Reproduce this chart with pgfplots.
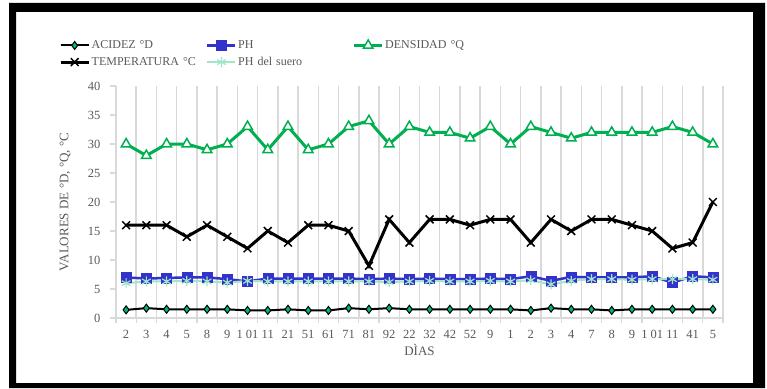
\documentclass[border=0pt]{standalone}
\usepackage{pgfplots}
\usepackage{pgfplotstable}
\pgfplotsset{compat=1.18}
\usepackage{fontspec}
\setmainfont{Liberation Serif}
\definecolor{txtgray}{HTML}{595959}
\definecolor{gridgray}{HTML}{D9D9D9}
\definecolor{acidfill}{HTML}{00B386}
\definecolor{phblue}{HTML}{3333CC}
\definecolor{densgreen}{HTML}{00B050}
\definecolor{suero}{HTML}{A0E6C8}

\pgfplotstableread{
x acid ph dens temp suero
0  1.4 7.0 30 16 6.0
1  1.7 6.8 28 16 6.3
2  1.5 6.9 30 16 6.3
3  1.5 7.0 30 14 6.4
4  1.5 7.0 29 16 6.3
5  1.5 6.7 30 14 6.1
6  1.3 6.3 33 12 6.4
7  1.3 6.8 29 15 6.3
8  1.5 6.8 33 13 6.3
9  1.3 6.8 29 16 6.3
10 1.3 6.8 30 16 6.3
11 1.7 6.8 33 15 6.3
12 1.5 6.7 34 9  6.3
13 1.7 6.8 30 17 6.2
14 1.5 6.7 33 13 6.3
15 1.5 6.8 32 17 6.4
16 1.5 6.7 32 17 6.3
17 1.5 6.7 31 16 6.3
18 1.5 6.8 33 17 6.4
19 1.5 6.7 30 17 6.3
20 1.3 7.2 33 13 6.5
21 1.7 6.4 32 17 5.8
22 1.5 7.1 31 15 6.4
23 1.5 7.0 32 17 6.7
24 1.3 7.0 32 17 6.7
25 1.5 7.0 32 16 6.6
26 1.5 7.2 32 15 6.7
27 1.5 6.1 33 12 6.7
28 1.5 7.2 32 13 6.7
29 1.5 7.0 30 20 6.6
}\datatable

\begin{document}
\begin{tikzpicture}[x=1pt,y=1pt]
\path[use as bounding box] (0,0) rectangle (767,388);
\fill[white] (16,5) rectangle (753,376);
\fill[black, even odd rule] (9,0) rectangle (765,385) (16,5) rectangle (753,376);
\begin{axis}[
  at={(116pt,70pt)}, anchor=south west,
  scale only axis, width=607pt, height=232pt,
  xmin=-0.5, xmax=29.5, ymin=0, ymax=40,
  axis x line*=bottom, axis y line*=left,
  axis line style={gridgray, line width=1.5pt},
  xtick={0,...,29},
  xticklabels={2,3,4,5,8,9,1 01,11,21,51,61,71,81,92,22,32,42,52,9,1,2,3,4,7,8,9,1 01,11,41,5},
  minor xtick={-0.5,0.5,...,29.5},
  xminorgrids=true,
  minor grid style={gridgray, line width=1.5pt},
  major x tick style={draw=none},
  minor x tick style={gridgray, line width=1.2pt},
  minor tick length=5pt,
  ytick={0,5,...,40},
  major y tick style={gridgray, line width=1.2pt},
  major tick length=6pt,
  tick align=outside,
  /pgf/number format/assume math mode=true,
  ticklabel style={font=\fontsize{12.5}{14}\selectfont, text=txtgray},
  xticklabel style={yshift=-3pt},
  yticklabel style={xshift=-6pt},
  ylabel={VALORES DE °D, °Q, °C},
  every axis y label/.style={at={(axis description cs:0,0.5)}, xshift=-51pt, rotate=90, anchor=center, font=\fontsize{13}{15}\selectfont, text=txtgray},
  xlabel={DÌAS},
  every axis x label/.style={at={(axis description cs:0.5,0)}, yshift=-32pt, anchor=center, font=\fontsize{13}{15}\selectfont, text=txtgray},
  legend columns=3,
  legend cell align=left,
  legend image code/.code={\draw[#1] (0pt,0pt) -- (14pt,0pt); \draw[#1, mark repeat=2, mark phase=2] plot coordinates {(0pt,0pt) (14pt,0pt) (28pt,0pt)};},
  legend style={draw=none, fill=none, at={(axis description cs:0,1)}, anchor=north west,
    xshift=-60pt, yshift=49pt, font=\fontsize{12}{14}\selectfont, text=txtgray,
    row sep=4pt,
    nodes={inner sep=1.5pt},
    /tikz/every even column/.append style={text width=113pt}},
  clip=false,
]
\addplot[black, line width=2pt, mark=diamond*, mark size=4pt, mark options={fill=acidfill, draw=black, line width=1pt}] table[x=x, y=acid] {\datatable};
\addlegendentry{ACIDEZ °D}
\addplot[phblue, line width=2.5pt, mark=square*, mark size=5pt, mark options={fill=phblue, draw=phblue, line width=0.5pt}] table[x=x, y=ph] {\datatable};
\addlegendentry{PH}
\addplot[densgreen, line width=3pt, mark=triangle*, mark size=5.5pt, mark options={fill=white, draw=densgreen, line width=1.5pt}] table[x=x, y=dens] {\datatable};
\addlegendentry{DENSIDAD °Q}
\addplot[black, line width=3pt, mark=x, mark size=5.5pt, mark options={line width=1.5pt}] table[x=x, y=temp] {\datatable};
\addlegendentry{TEMPERATURA °C}
\addplot[suero, line width=2pt, mark=asterisk, mark size=5pt, mark options={line width=1.2pt}] table[x=x, y=suero] {\datatable};
\addlegendentry{PH del suero}
\end{axis}
\end{tikzpicture}
\end{document}
